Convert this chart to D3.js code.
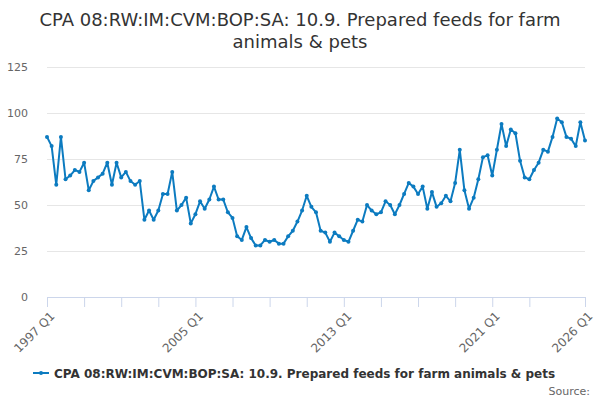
<!DOCTYPE html>
<html>
<head>
<meta charset="utf-8">
<script src="https://cdn.jsdelivr.net/npm/d3@7"></script>
<style>
  body { margin: 0; background: #fff; }
  text { font-family: "DejaVu Sans", sans-serif; }
</style>
</head>
<body>
<div class="chart"></div>
<script>
// quarterly values, 1997 Q1 .. 2026 Q1
var startYear = 1997;
var values = [
  87, 82, 61, 87, 64, 66, 69, 68, 73, 58, 63, 65, 67, 73, 61, 73,
  65, 68, 63, 61, 63, 42, 47, 42, 47, 56, 56, 68, 47, 50, 54, 40,
  45, 52, 48, 53, 60, 53, 53, 46, 43, 33, 31, 38, 32, 28, 28, 31,
  30, 31, 29, 29, 33, 36, 41, 47, 55, 49, 46, 36, 35, 30, 35, 33,
  31, 30, 36, 42, 41, 50, 47, 45, 46, 52, 50, 45, 50, 56, 62, 60,
  56, 60, 48, 57, 49, 51, 55, 52, 62, 80, 58, 48, 54, 64, 76, 77,
  66, 80, 94, 82, 91, 89, 74, 65, 64, 69, 73, 80, 79, 87, 97, 95,
  87, 86, 82, 95, 85
];
var yTicks = [0, 25, 50, 75, 100, 125];
var labelIdx = [0, 32, 64, 96, 116];
var seriesName = "CPA 08:RW:IM:CVM:BOP:SA: 10.9. Prepared feeds for farm animals & pets";
var titleLines = ["CPA 08:RW:IM:CVM:BOP:SA: 10.9. Prepared feeds for farm", "animals & pets"];

var quarters = values.map(function(v, i) {
  return (startYear + Math.floor(i / 4)) + " Q" + (i % 4 + 1);
});
var data = values.map(function(v, i) { return { q: quarters[i], i: i, v: v }; });

var svgWidth = 600;
var svgHeight = 400;
var margin = { top: 67, right: 15, bottom: 103, left: 47 };
var width = svgWidth - margin.left - margin.right;
var height = svgHeight - margin.top - margin.bottom;
var color = "#0c7bc0";

var svg = d3.select(".chart").append("svg")
  .attr("width", svgWidth)
  .attr("height", svgHeight);

// title
svg.append("text")
  .attr("x", svgWidth / 2)
  .attr("y", 26)
  .attr("text-anchor", "middle")
  .style("font-size", "18px")
  .attr("fill", "#333")
  .selectAll("tspan")
  .data(titleLines)
  .enter()
  .append("tspan")
  .attr("x", svgWidth / 2)
  .attr("dy", function(d, i) { return i === 0 ? 0 : 22; })
  .text(function(d) { return d; });

var chartGroup = svg.append("g")
  .attr("transform", `translate(${margin.left}, ${margin.top})`);

var x = d3.scaleLinear().domain([0, values.length - 1]).range([0, width]);
var y = d3.scaleLinear().domain([0, 125]).range([height, 0]);

// grid + y labels
var leftAxis = d3.axisLeft(y).tickValues(yTicks).tickSize(-width).tickPadding(19);
var yAxis = chartGroup.append("g").call(leftAxis);
yAxis.select(".domain").remove();
yAxis.selectAll(".tick line").attr("stroke", "#e6e6e6");
yAxis.selectAll(".tick line").filter(function(d) { return d === 0; }).remove();
yAxis.selectAll("text")
  .attr("fill", "#666")
  .style("font-size", "11px")
  .style("font-family", "DejaVu Sans, sans-serif");

// x axis: ticks every 8 quarters, plus the last one
var tickIdx = d3.range(0, values.length - 8, 8).concat([values.length - 1]);
var bottomAxis = d3.axisBottom(x)
  .tickValues(tickIdx)
  .tickSize(10)
  .tickFormat(function(d) { return labelIdx.indexOf(d) >= 0 ? quarters[d] : ""; });
var xAxis = chartGroup.append("g")
  .attr("transform", `translate(0, ${height})`)
  .call(bottomAxis);
xAxis.select(".domain").attr("stroke", "#ccd6eb");
xAxis.selectAll(".tick line").attr("stroke", "#ccd6eb");
xAxis.selectAll("text")
  .attr("fill", "#666")
  .style("font-size", "12px")
  .style("font-family", "DejaVu Sans, sans-serif")
  .attr("text-anchor", "end")
  .attr("transform", "translate(5, 17) rotate(-45)")
  .attr("dy", "0.35em")
  .attr("y", 0);

// line
var line = d3.line()
  .x(function(d) { return x(d.i); })
  .y(function(d) { return y(d.v); });

chartGroup.append("path")
  .datum(data)
  .attr("fill", "none")
  .attr("stroke", color)
  .attr("stroke-width", 2)
  .attr("stroke-linejoin", "round")
  .attr("d", line);

chartGroup.selectAll("circle")
  .data(data)
  .enter()
  .append("circle")
  .attr("cx", function(d) { return x(d.i); })
  .attr("cy", function(d) { return y(d.v); })
  .attr("r", 2)
  .attr("fill", color);

// legend
var legend = svg.append("g").attr("transform", "translate(33, 373)");
legend.append("line")
  .attr("x1", 0).attr("x2", 16)
  .attr("y1", 0).attr("y2", 0)
  .attr("stroke", color)
  .attr("stroke-width", 2);
legend.append("circle")
  .attr("cx", 8).attr("cy", 0).attr("r", 2)
  .attr("fill", color);
legend.append("text")
  .attr("x", 21)
  .attr("y", 5)
  .style("font-size", "12px")
  .style("font-weight", "bold")
  .attr("fill", "#333")
  .text(seriesName);

// source
svg.append("text")
  .attr("x", 590)
  .attr("y", 395)
  .attr("text-anchor", "end")
  .style("font-size", "11px")
  .attr("fill", "#666")
  .text("Source:");
</script>
</body>
</html>
